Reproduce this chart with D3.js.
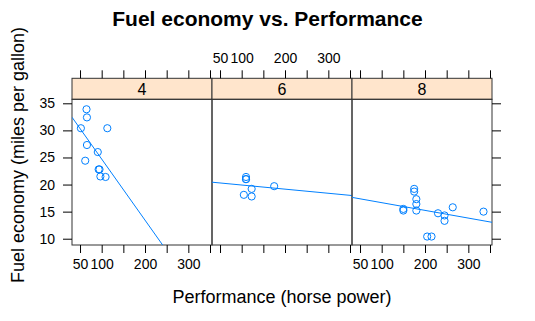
<!DOCTYPE html>
<html>
<head>
<meta charset="utf-8">
<script src="https://cdn.jsdelivr.net/npm/d3@7"></script>
<style>
  body { margin: 0; background: #fff; }
  text { font-family: "Liberation Sans", Arial, Helvetica, sans-serif; }
</style>
</head>
<body>
<svg width="535" height="321"></svg>
<script>
// mtcars: horse power, miles per gallon, cylinders
const hp  = [110, 110, 93, 110, 175, 105, 245, 62, 95, 123, 123, 180, 180, 180, 205, 215,
             230, 66, 52, 65, 97, 150, 150, 245, 175, 66, 91, 113, 264, 175, 335, 109];
const mpg = [21.0, 21.0, 22.8, 21.4, 18.7, 18.1, 14.3, 24.4, 22.8, 19.2, 17.8, 16.4, 17.3, 15.2, 10.4, 10.4,
             14.7, 32.4, 30.4, 33.9, 21.5, 15.5, 15.2, 13.3, 19.2, 27.3, 26.0, 30.4, 15.8, 19.7, 15.0, 21.4];
const cyl = [6, 6, 4, 6, 8, 6, 8, 4, 4, 6, 6, 8, 8, 8, 8, 8,
             8, 4, 4, 4, 4, 8, 8, 8, 8, 4, 4, 4, 8, 6, 8, 4];

const panels = [4, 6, 8];
const xTicks = [50, 100, 150, 200, 250, 300, 350];
const xLabels = [50, 100, 200, 300];
const yTicks = [10, 15, 20, 25, 30, 35];

const svg = d3.select("svg");
const col = "#0080ff";

const panelW = 140;
const panelLeft = 72, panelTop = 99.3, panelBottom = 245;
const stripH = 21;

const x = d3.scaleLinear().domain([31.5, 354.6]).range([0, panelW]);
const y = d3.scaleLinear().domain([8.84, 35.74]).range([panelBottom, panelTop]);

// title
svg.append("text")
    .attr("x", 267.5).attr("y", 26)
    .attr("text-anchor", "middle")
    .attr("font-size", "21px").attr("font-weight", "bold")
    .text("Fuel economy vs. Performance");

// axis titles
svg.append("text")
    .attr("x", panelLeft + 1.5 * panelW).attr("y", 303)
    .attr("text-anchor", "middle")
    .attr("font-size", "18px")
    .text("Performance (horse power)");

svg.append("text")
    .attr("transform", "translate(24," + 155 + ") rotate(-90)")
    .attr("text-anchor", "middle")
    .attr("font-size", "18px")
    .text("Fuel economy (miles per gallon)");

const rows = hp.map((h, i) => ({ hp: h, mpg: mpg[i], cyl: cyl[i] }));

function lmFit(pts) {
    const mx = d3.mean(pts, d => d.hp), my = d3.mean(pts, d => d.mpg);
    const sxy = d3.sum(pts, d => (d.hp - mx) * (d.mpg - my));
    const sxx = d3.sum(pts, d => (d.hp - mx) ** 2);
    const b = sxy / sxx;
    return { a: my - b * mx, b: b };
}

svg.append("defs").append("clipPath").attr("id", "clip")
    .append("rect").attr("x", 0).attr("y", panelTop).attr("width", panelW).attr("height", panelBottom - panelTop);

panels.forEach((c, pi) => {
    const g = svg.append("g").attr("transform", "translate(" + (panelLeft + pi * panelW) + ",0)");
    const pts = rows.filter(d => d.cyl === c);

    // strip
    g.append("rect")
        .attr("x", 0).attr("y", panelTop - stripH)
        .attr("width", panelW).attr("height", stripH)
        .attr("fill", "#ffe5cc").attr("stroke", "#333").attr("stroke-width", 1);
    g.append("text")
        .attr("x", panelW / 2).attr("y", panelTop - 4)
        .attr("text-anchor", "middle")
        .attr("font-size", "16px")
        .text(c);

    // panel box
    g.append("rect")
        .attr("x", 0).attr("y", panelTop)
        .attr("width", panelW).attr("height", panelBottom - panelTop)
        .attr("fill", "none").attr("stroke", "#333").attr("stroke-width", 1);

    // regression line across the panel
    const fit = lmFit(pts);
    const dom = x.domain();
    g.append("g").attr("clip-path", "url(#clip)")
        .append("line")
        .attr("x1", x(dom[0])).attr("y1", y(fit.a + fit.b * dom[0]))
        .attr("x2", x(dom[1])).attr("y2", y(fit.a + fit.b * dom[1]))
        .attr("stroke", col).attr("stroke-width", 1);

    g.selectAll("circle")
        .data(pts)
        .join("circle")
        .attr("cx", d => x(d.hp))
        .attr("cy", d => y(d.mpg))
        .attr("r", 3.6)
        .attr("fill", "none")
        .attr("stroke", col)
        .attr("stroke-width", 1);

    // bottom axis
    const bAx = d3.axisBottom(x).tickValues(xTicks).tickSize(8).tickPadding(6)
        .tickFormat(d => (pi !== 1 && xLabels.includes(d)) ? d : "");
    g.append("g").attr("transform", "translate(0," + panelBottom + ")").call(bAx)
        .call(s => s.select(".domain").remove())
        .call(s => s.selectAll("text").attr("font-size", "14px").attr("fill", "#000").attr("font-family", null));

    // top axis
    const tAx = d3.axisTop(x).tickValues(xTicks).tickSize(8).tickPadding(7)
        .tickFormat(d => (pi === 1 && xLabels.includes(d)) ? d : "");
    g.append("g").attr("transform", "translate(0," + (panelTop - stripH) + ")").call(tAx)
        .call(s => s.select(".domain").remove())
        .call(s => s.selectAll("text").attr("font-size", "14px").attr("fill", "#000").attr("font-family", null));

    if (pi === 0) {
        g.append("g").call(d3.axisLeft(y).tickValues(yTicks).tickSize(9).tickPadding(8))
            .call(s => s.select(".domain").remove())
            .call(s => s.selectAll("text").attr("font-size", "14px").attr("fill", "#000").attr("font-family", null));
    }
    if (pi === 2) {
        g.append("g").attr("transform", "translate(" + panelW + ",0)")
            .call(d3.axisRight(y).tickValues(yTicks).tickSize(9).tickFormat(""))
            .call(s => s.select(".domain").remove());
    }
});
</script>
</body>
</html>
